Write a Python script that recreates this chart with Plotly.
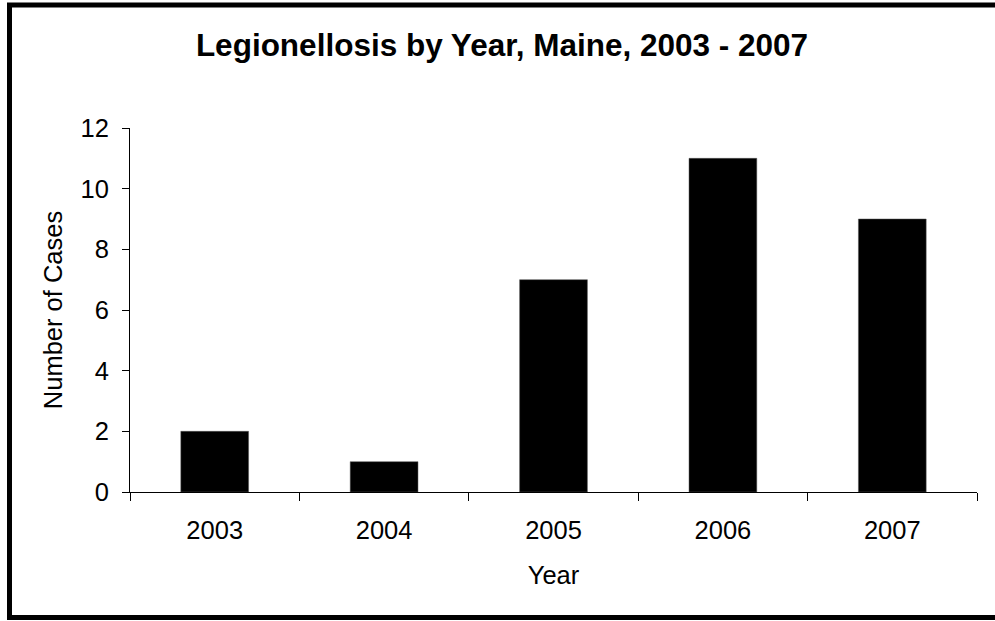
import plotly.graph_objects as go

# data
years = ["2003", "2004", "2005", "2006", "2007"]
cases = [2, 1, 7, 11, 9]

y_ticks = [0, 2, 4, 6, 8, 10, 12]

font_family = "Liberation Sans, Arial, sans-serif"

fig = go.Figure()

fig.add_trace(
    go.Bar(
        x=years,
        y=cases,
        marker=dict(color="black", line=dict(color="#555555", width=0.5)),
        hoverinfo="x+y",
        showlegend=False,
    )
)

fig.update_layout(
    width=995,
    height=621,
    autosize=False,
    margin=dict(l=130, r=18, t=128, b=129, pad=0),
    plot_bgcolor="white",
    paper_bgcolor="white",
    bargap=0.6,
    font=dict(family=font_family, size=25.5, color="black"),
    title=dict(
        text="<b>Legionellosis by Year, Maine, 2003 - 2007</b>",
        font=dict(family=font_family, size=31.5, color="black"),
        x=502 / 995,
        xanchor="center",
        xref="container",
        y=1 - 45 / 621,
        yanchor="middle",
        yref="container",
    ),
)

fig.update_xaxes(
    type="category",
    showline=True,
    linecolor="black",
    linewidth=1,
    showgrid=False,
    zeroline=False,
    ticks="outside",
    tickson="boundaries",
    ticklen=8,
    tickcolor="black",
    tickwidth=1,
    ticklabelstandoff=15,
    title=dict(text="Year", font=dict(size=25.5), standoff=23),
)

fig.update_yaxes(
    range=[0, 12],
    tickvals=y_ticks,
    showline=True,
    linecolor="black",
    linewidth=1,
    showgrid=False,
    zeroline=False,
    ticks="outside",
    ticklen=7,
    tickcolor="black",
    tickwidth=1,
    ticklabelstandoff=8,
    title=dict(text="Number of Cases", font=dict(size=25.5), standoff=10),
)

# thick frame around the chart, running off the right edge like the original
fig.add_shape(
    type="rect",
    xref="paper",
    yref="paper",
    x0=(9.5 - 130) / 847,
    x1=1.2,
    y0=-(617.5 - 492) / 364,
    y1=1 + (128 - 5) / 364,
    line=dict(color="black", width=5),
    fillcolor="rgba(0,0,0,0)",
    layer="above",
)

fig.write_html(
    "out.html",
    config={"displayModeBar": False},
    post_script="document.body.style.margin = '0';",
)
